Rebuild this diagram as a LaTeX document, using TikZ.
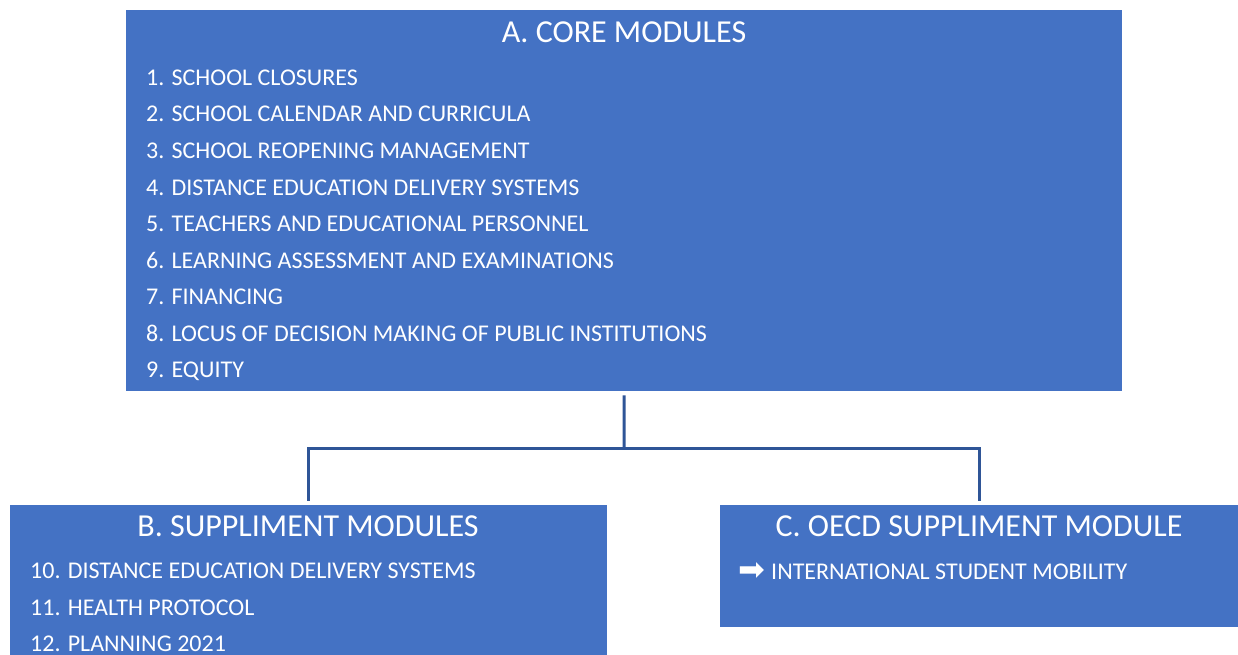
\documentclass[tikz,border=0pt]{standalone}
\usepackage{fontspec}
\setmainfont{Carlito}
\newfontfamily\symfont{DejaVu Sans}
\usepackage{xcolor}
\usepackage{tikz}
\usetikzlibrary{calc}

\definecolor{modblue}{HTML}{4472C4}
\definecolor{linkblue}{HTML}{2F5597}

\tikzset{
  modbox/.style={fill=modblue,draw=none,inner sep=0pt,anchor=north west},
  modtitle/.style={white,anchor=base,inner sep=0pt,font=\fontsize{32}{38}\selectfont},
  moditem/.style={white,anchor=base west,inner sep=0pt,font=\fontsize{24}{29}\selectfont},
  link/.style={linkblue,line width=3pt,shorten <=4pt}
}

\begin{document}
\begin{tikzpicture}[x=1pt,y=-1pt]
\useasboundingbox (0,0) rectangle (1238,655);

% Core modules
\node[modbox,minimum width=996pt,minimum height=381pt] (core) at (126,10) {};
\node[modtitle] (coretitle) at (624,43) {A. CORE MODULES};
\node[moditem] (c1) at (146,85.5) {1. SCHOOL CLOSURES};
\node[moditem] (c2) at (146,122) {2. SCHOOL CALENDAR AND CURRICULA};
\node[moditem] (c3) at (146,158.5) {3. SCHOOL REOPENING MANAGEMENT};
\node[moditem] (c4) at (146,195) {4. DISTANCE EDUCATION DELIVERY SYSTEMS};
\node[moditem] (c5) at (146,231.5) {5. TEACHERS AND EDUCATIONAL PERSONNEL};
\node[moditem] (c6) at (146,268) {6. LEARNING ASSESSMENT AND EXAMINATIONS};
\node[moditem] (c7) at (146,304.5) {7. FINANCING};
\node[moditem] (c8) at (146,341) {8. LOCUS OF DECISION MAKING OF PUBLIC INSTITUTIONS};
\node[moditem] (c9) at (146,377.5) {9. EQUITY};

% Supplement modules
\node[modbox,minimum width=597pt,minimum height=170pt] (supp) at (10,505) {};
\node[modtitle] (supptitle) at (308,536) {B. SUPPLIMENT MODULES};
\node[moditem] (s10) at (30,578.5) {10. DISTANCE EDUCATION DELIVERY SYSTEMS};
\node[moditem] (s11) at (30,615) {11. HEALTH PROTOCOL};
\node[moditem] (s12) at (30,651.5) {12. PLANNING 2021};

% OECD supplement module
\node[modbox,minimum width=518pt,minimum height=122pt] (oecd) at (720,505) {};
\node[modtitle] (oecdtitle) at (979,536) {C. OECD SUPPLIMENT MODULE};
\node[moditem,anchor=west,font=\symfont\fontsize{32}{36}\selectfont] (o1arrow) at (738,572) {➡};
\node[moditem] (o1) at (771,579.5) {INTERNATIONAL STUDENT MOBILITY};

% Connectors
\coordinate (split) at (624,448);
\draw[link] (core.south) -- (split);
\draw[link,shorten <=0pt,shorten >=4pt] (split) -| (supp.north);
\draw[link,shorten <=0pt,shorten >=4pt] (split) -| (oecd.north);
\end{tikzpicture}
\end{document}
